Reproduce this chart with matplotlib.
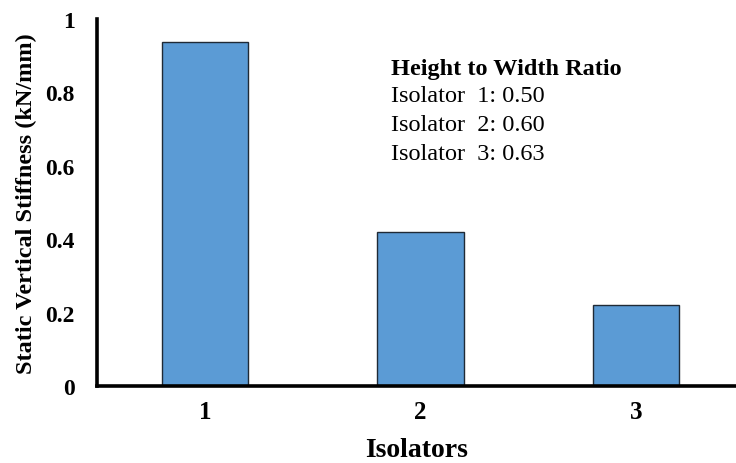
import matplotlib
matplotlib.use("Agg")
import matplotlib.pyplot as plt
from matplotlib.ticker import FixedLocator, FixedFormatter

categories = ["1", "2", "3"]
stiffness = [0.937, 0.42, 0.22]
yticks = [0, 0.2, 0.4, 0.6, 0.8, 1.0]
ytick_labels = ["0", "0.2", "0.4", "0.6", "0.8", "1"]
ratio_title = "Height to Width Ratio"
ratio_lines = ["Isolator  1: 0.50", "Isolator  2: 0.60", "Isolator  3: 0.63"]

plt.rcParams['font.family'] = ['Liberation Serif', 'DejaVu Serif']

fig = plt.figure(figsize=(7.36, 4.64), dpi=100)
ax = fig.add_axes([97/736, (464-387)/464, 1 - 97/736, (387-20)/464])

x = list(range(len(categories)))
ax.bar(x, stiffness, width=0.40, color="#5B9BD5", edgecolor="#1f2a36", linewidth=1.0, zorder=2)

ax.set_xlim(-0.5, 2.5 - 8/216)
ax.set_ylim(0, 1)
ax.yaxis.set_major_locator(FixedLocator(yticks))
ax.yaxis.set_major_formatter(FixedFormatter(ytick_labels))
ax.set_xticks(x)
ax.set_xticklabels(categories)

for s in ["top", "right"]:
    ax.spines[s].set_visible(False)
for s in ["left", "bottom"]:
    ax.spines[s].set_linewidth(2.6)
    ax.spines[s].set_color("black")
    ax.spines[s].set_zorder(3)

ax.tick_params(axis="y", length=0, pad=16, labelsize=17)
ax.tick_params(axis="x", length=0, pad=10, labelsize=18)
for lab in ax.get_xticklabels() + ax.get_yticklabels():
    lab.set_fontweight("bold")

ax.set_ylabel("Static Vertical Stiffness (kN/mm)", fontsize=17.5, fontweight="bold")
ax.yaxis.set_label_coords(-(97 - 26) / 639, 0.5)
ax.set_xlabel("Isolators", fontsize=20, fontweight="bold")
ax.xaxis.set_label_coords((417 - 97) / 639, -(451 - 387) / 367)
ax.xaxis.label.set_va("center")
ax.yaxis.label.set_va("center")

fig.text(391/736, 1 - 69/464, ratio_title, fontsize=17.5, fontweight="bold", va="center", ha="left")
for i, line in enumerate(ratio_lines):
    fig.text(391/736, 1 - (96 + 29.5*i)/464, line, fontsize=17.5, va="center", ha="left")

fig.savefig("out.png", dpi=100)
